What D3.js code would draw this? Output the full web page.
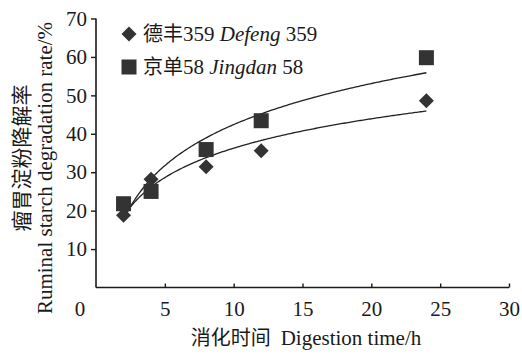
<!DOCTYPE html>
<html>
<head>
<meta charset="utf-8">
<script src="https://cdn.jsdelivr.net/npm/d3@7"></script>
<style>
  html, body { margin: 0; padding: 0; background: #fff; }
  svg { display: block; }
  text { fill: #1a1a1a; }
</style>
</head>
<body>
<svg id="chart" width="522" height="356"></svg>
<script>
// ---- data ----
const hours = [2, 4, 8, 12, 24];
const defeng = [18.8, 28.2, 31.4, 35.6, 48.6];
const jingdan = [21.8, 25.0, 35.9, 43.4, 59.8];
const seriesZh = ["德丰", "京单"];
const seriesCode = ["359", "58"];
const seriesEn = ["Defeng", "Jingdan"];
const xTicks = [5, 10, 15, 20, 25, 30];
const yTicks = [10, 20, 30, 40, 50, 60, 70];

const svg = d3.select("#chart");
const serif = "'Liberation Serif', 'Times New Roman', serif";
const cjk = "'Noto Sans CJK SC', sans-serif";
const ink = "#1a1a1a";
const markColor = "#333";

const x = d3.scaleLinear().domain([0, 30]).range([96, 509]);
const y = d3.scaleLinear().domain([0, 70]).range([287.5, 18.5]);

// axes
const gx = svg.append("g").attr("transform", `translate(0,${y(0)})`)
  .call(d3.axisBottom(x).tickValues(xTicks).tickSizeInner(-4).tickSizeOuter(0).tickFormat(d3.format("d")));
gx.attr("font-family", serif).attr("font-size", 21);
gx.select(".domain").attr("stroke", ink).attr("stroke-width", 1.6).attr("d", `M${x(0)},0H${x(30)}`);
gx.selectAll(".tick line").attr("stroke", ink).attr("stroke-width", 1.4);
gx.selectAll(".tick text").attr("fill", ink).attr("y", 14).attr("dy", "0.71em");

const gy = svg.append("g").attr("transform", `translate(${x(0)},0)`)
  .call(d3.axisLeft(y).tickValues(yTicks).tickSizeInner(5).tickSizeOuter(0).tickFormat(d3.format("d")));
gy.attr("font-family", serif).attr("font-size", 21);
gy.select(".domain").attr("stroke", ink).attr("stroke-width", 1.6).attr("d", `M0,${y(70)}V${y(0)}`);
gy.selectAll(".tick line").attr("stroke", ink).attr("stroke-width", 1.4);
gy.selectAll(".tick text").attr("fill", ink).attr("x", -9);

// origin label
svg.append("text").attr("x", x(0) - 16).attr("y", y(0) + 14).attr("dy", "0.71em")
  .attr("text-anchor", "middle").attr("font-family", serif).attr("font-size", 21).text("0");

// logarithmic trend lines (least squares fit of y = a ln x + b)
function logFit(xs, ys) {
  const lx = xs.map(Math.log);
  const mx = d3.mean(lx), my = d3.mean(ys);
  const sxy = d3.sum(lx, (v, i) => (v - mx) * (ys[i] - my));
  const sxx = d3.sum(lx, v => (v - mx) * (v - mx));
  const a = sxy / sxx;
  return { a, b: my - a * mx };
}
const line = d3.line().x(d => x(d[0])).y(d => y(d[1]));
[defeng, jingdan].forEach(vals => {
  const f = logFit(hours, vals);
  const pts = d3.range(hours[0], hours[hours.length - 1] + 0.001, 0.1).map(t => [t, f.a * Math.log(t) + f.b]);
  svg.append("path").datum(pts).attr("d", line).attr("fill", "none").attr("stroke", "#222").attr("stroke-width", 1.3);
});

// markers
function drawDiamond(cx, cy) {
  const r = 7.5;
  svg.append("path").attr("d", `M${cx},${cy - r}L${cx + r},${cy}L${cx},${cy + r}L${cx - r},${cy}Z`).attr("fill", markColor);
}
function drawSquare(cx, cy) {
  const s = 15;
  svg.append("rect").attr("x", cx - s / 2).attr("y", cy - s / 2).attr("width", s).attr("height", s).attr("fill", markColor);
}
hours.forEach((h, i) => drawSquare(x(h), y(jingdan[i])));
hours.forEach((h, i) => drawDiamond(x(h), y(defeng[i])));

// legend
const legY = [34, 67];
drawDiamond(129, legY[0]);
drawSquare(129, legY[1]);
seriesZh.forEach((zh, i) => {
  const t = svg.append("text").attr("x", 143).attr("y", legY[i] + 7).attr("font-family", serif).attr("font-size", 21);
  t.append("tspan").attr("font-family", cjk).attr("font-size", 20).text(zh);
  t.append("tspan").text(seriesCode[i] + " ");
  t.append("tspan").attr("font-style", "italic").text(seriesEn[i]);
  t.append("tspan").text(" " + seriesCode[i]);
});

// x title
const xt = svg.append("text").attr("x", 306).attr("y", 345).attr("text-anchor", "middle")
  .attr("font-family", serif).attr("font-size", 21);
xt.append("tspan").attr("font-family", cjk).attr("font-size", 20).text("消化时间");
xt.append("tspan").attr("dx", 10).text("Digestion time/h");

// y titles
svg.append("text").attr("transform", "translate(29,158) rotate(-90)").attr("text-anchor", "middle")
  .attr("font-family", cjk).attr("font-size", 21).text("瘤胃淀粉降解率");
svg.append("text").attr("transform", "translate(52,168) rotate(-90)").attr("text-anchor", "middle")
  .attr("font-family", serif).attr("font-size", 21).text("Ruminal starch degradation rate/%");
</script>
</body>
</html>
